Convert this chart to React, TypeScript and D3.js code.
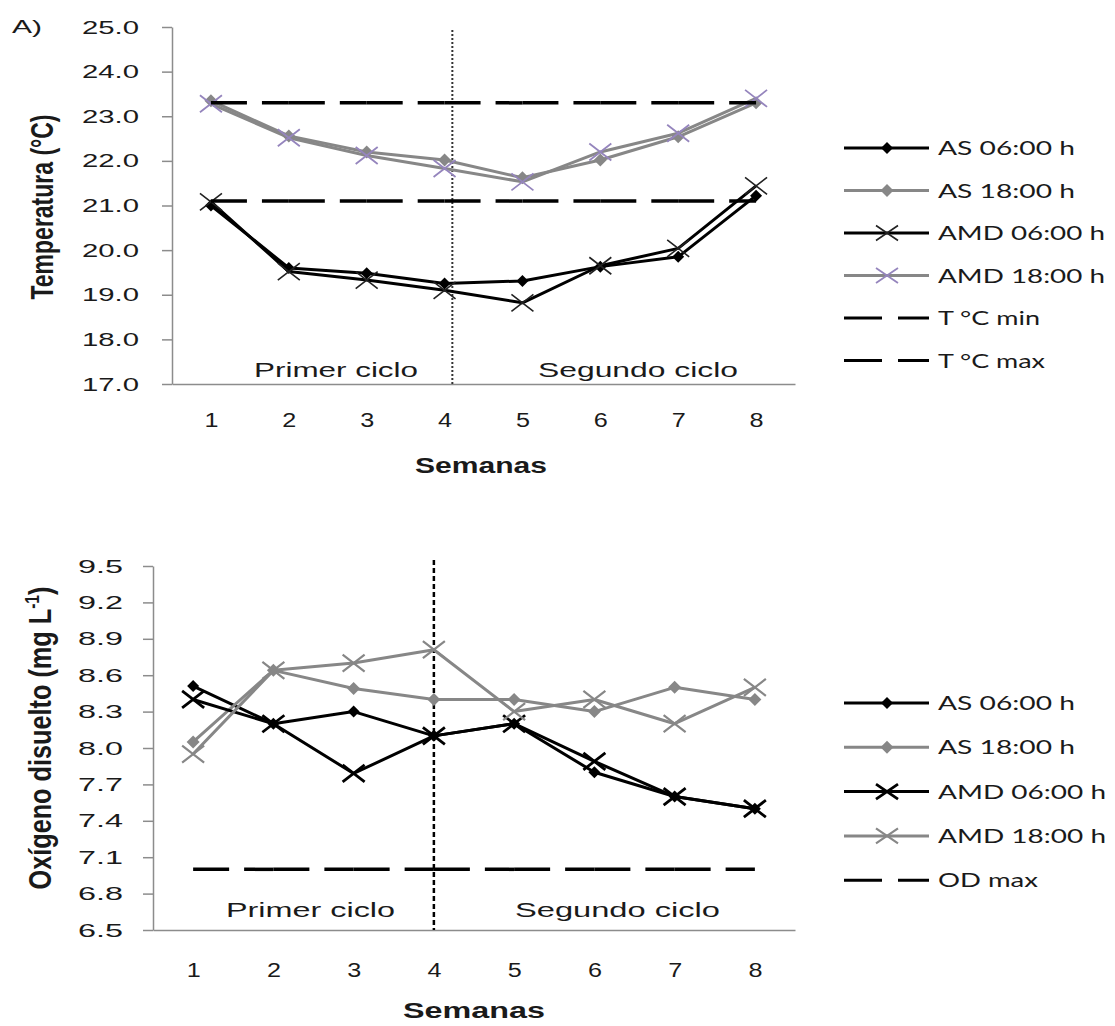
import { useEffect, useRef } from 'react';
import * as d3 from 'd3';

const weeks = ['1', '2', '3', '4', '5', '6', '7', '8'];

// A) temperatura
const tempTicks = [17, 18, 19, 20, 21, 22, 23, 24, 25];
const tempAS06 = [21.0, 19.6, 19.48, 19.25, 19.31, 19.63, 19.85, 21.22];
const tempAS18 = [23.35, 22.56, 22.2, 22.02, 21.62, 22.02, 22.54, 23.3];
const tempAMD06 = [21.08, 19.52, 19.33, 19.1, 18.82, 19.65, 20.04, 21.44];
const tempAMD18 = [23.28, 22.52, 22.12, 21.83, 21.53, 22.2, 22.62, 23.4];
const tempMin = [21.1, 21.1, 21.1, 21.1, 21.1, 21.1, 21.1, 21.1];
const tempMax = [23.3, 23.3, 23.3, 23.3, 23.3, 23.3, 23.3, 23.3];
const tempSeparator = 4.1;

// B) oxigeno disuelto
const oxyTicks = [6.5, 6.8, 7.1, 7.4, 7.7, 8.0, 8.3, 8.6, 8.9, 9.2, 9.5];
const oxyAS06 = [8.51, 8.2, 8.3, 8.1, 8.2, 7.8, 7.6, 7.5];
const oxyAS18 = [8.05, 8.64, 8.49, 8.4, 8.4, 8.3, 8.5, 8.4];
const oxyAMD06 = [8.4, 8.2, 7.79, 8.1, 8.2, 7.89, 7.6, 7.5];
const oxyAMD18 = [7.95, 8.64, 8.7, 8.81, 8.3, 8.4, 8.2, 8.5];
const odMax = [7.0, 7.0, 7.0, 7.0, 7.0, 7.0, 7.0, 7.0];
const oxySeparator = 4;

const legendTop = ['AS 06:00 h', 'AS 18:00 h', 'AMD 06:00 h', 'AMD 18:00 h', 'T °C min', 'T °C max'];
const legendBottom = ['AS 06:00 h', 'AS 18:00 h', 'AMD 06:00 h', 'AMD 18:00 h', 'OD max'];

const SANS = "'Liberation Sans', Arial, sans-serif";
const LEG = "Lato, 'Open Sans', sans-serif";
const GRAY = '#878787';
const AXIS = '#8c8c8c';
const PURPLE = '#9585bd';

const panels = [
    {
        left: 172, right: 795, top: 27, bottom: 384, domain: [17, 25], ticks: tempTicks, fmt: '.1f',
        tickGap: 33, tickLen: 57, xLabelDy: 43, sepPos: tempSeparator, sepTop: 30,
        sepStyle: { color: '#333', width: 2, dash: '2 2' },
        series: [
            { name: legendTop[0], values: tempAS06, stroke: '#000', marker: 'diamond', mColor: '#000', mSize: 6, mWidth: 0 },
            { name: legendTop[1], values: tempAS18, stroke: GRAY, marker: 'diamond', mColor: GRAY, mSize: 6.5, mWidth: 0 },
            { name: legendTop[2], values: tempAMD06, stroke: '#000', marker: 'cross', mColor: '#222', mSize: 0, mWidth: 1.6 },
            { name: legendTop[3], values: tempAMD18, stroke: GRAY, marker: 'cross', mColor: PURPLE, mSize: 0, mWidth: 1.8 },
        ],
        refs: [{ name: legendTop[4], values: tempMin }, { name: legendTop[5], values: tempMax }],
        legendY: 148, legendStep: 42.5, legendLens: [137, 137, 167, 167, 102, 107],
        cycles: [
            { text: 'Primer ciclo', x: 254, len: 164, y: 377 },
            { text: 'Segundo ciclo', x: 538, len: 200, y: 377 },
        ],
        title: { x: 53, cy: 207, len: 185 },
        xTitle: { cx: 481, y: 473, len: 132 },
    },
    {
        left: 153, right: 795, top: 566, bottom: 930, domain: [6.5, 9.5], ticks: oxyTicks, fmt: '.1f',
        tickGap: 30, tickLen: 45, xLabelDy: 47, sepPos: oxySeparator, sepTop: 560,
        sepStyle: { color: '#000', width: 2.5, dash: '5 3' },
        series: [
            { name: legendBottom[0], values: oxyAS06, stroke: '#000', marker: 'diamond', mColor: '#000', mSize: 6, mWidth: 0 },
            { name: legendBottom[1], values: oxyAS18, stroke: GRAY, marker: 'diamond', mColor: GRAY, mSize: 6.5, mWidth: 0 },
            { name: legendBottom[2], values: oxyAMD06, stroke: '#000', marker: 'cross', mColor: '#000', mSize: 0, mWidth: 2.8 },
            { name: legendBottom[3], values: oxyAMD18, stroke: GRAY, marker: 'cross', mColor: GRAY, mSize: 0, mWidth: 2.2 },
        ],
        refs: [{ name: legendBottom[4], values: odMax }],
        legendY: 703, legendStep: 44.3, legendLens: [137, 137, 168, 168, 100],
        cycles: [
            { text: 'Primer ciclo', x: 226, len: 169, y: 917 },
            { text: 'Segundo ciclo', x: 515, len: 205, y: 917 },
        ],
        title: { x: 51, cy: 738, len: 303 },
        xTitle: { cx: 474, y: 1018, len: 142 },
    },
];

const drawMarker = (g, s, cx, cy, legend) => {
    if (s.marker === 'diamond') {
        const r = s.mSize;
        g.append('path')
            .attr('d', `M${cx},${cy - r}L${cx + r},${cy}L${cx},${cy + r}L${cx - r},${cy}Z`)
            .attr('fill', s.mColor);
    } else {
        const w = 11;
        const h = legend ? 7.5 : 8.5;
        g.append('path')
            .attr('d', `M${cx - w},${cy - h}L${cx + w},${cy + h}M${cx - w},${cy + h}L${cx + w},${cy - h}`)
            .attr('stroke', s.mColor)
            .attr('stroke-width', s.mWidth)
            .attr('fill', 'none');
    }
};

const addText = (g, text, x, y, len, size, weight = 'normal', family = SANS) =>
    g.append('text')
        .attr('x', x)
        .attr('y', y)
        .attr('font-family', family)
        .attr('font-size', size)
        .attr('font-weight', weight)
        .attr('fill', '#1a1a1a')
        .attr('textLength', len)
        .attr('lengthAdjust', 'spacingAndGlyphs')
        .text(text);

const drawPanel = (svg, p) => {
    const x = d3.scalePoint().domain(weeks).range([p.left, p.right]).padding(0.5);
    const y = d3.scaleLinear().domain(p.domain).range([p.bottom, p.top]);
    const g = svg.append('g');

    const yAxis = g.append('g')
        .attr('transform', `translate(${p.left},0)`)
        .call(d3.axisLeft(y).tickValues(p.ticks).tickFormat(d3.format(p.fmt)).tickSize(10).tickSizeOuter(0));
    yAxis.select('.domain').attr('stroke', AXIS).attr('stroke-width', 1.5);
    yAxis.selectAll('.tick line').attr('stroke', AXIS).attr('stroke-width', 1.5);
    yAxis.selectAll('.tick text')
        .attr('x', -(p.tickGap + p.tickLen))
        .attr('text-anchor', 'start')
        .attr('font-size', 19)
        .attr('font-family', SANS)
        .attr('fill', '#1a1a1a')
        .attr('textLength', p.tickLen)
        .attr('lengthAdjust', 'spacingAndGlyphs');

    const xAxis = g.append('g')
        .attr('transform', `translate(0,${p.bottom})`)
        .call(d3.axisBottom(x).tickSize(0).tickSizeOuter(0));
    xAxis.select('.domain').attr('stroke', AXIS).attr('stroke-width', 1.5);
    xAxis.selectAll('.tick text')
        .attr('x', -7)
        .attr('y', p.xLabelDy)
        .attr('dy', 0)
        .attr('text-anchor', 'start')
        .attr('font-size', 20)
        .attr('font-family', SANS)
        .attr('fill', '#1a1a1a')
        .attr('textLength', 14)
        .attr('lengthAdjust', 'spacingAndGlyphs');

    // vertical separator between cycles
    const sx = x(weeks[0]) + (p.sepPos - 1) * x.step();
    g.append('line')
        .attr('x1', sx).attr('x2', sx)
        .attr('y1', p.sepTop).attr('y2', p.bottom)
        .attr('stroke', p.sepStyle.color)
        .attr('stroke-width', p.sepStyle.width)
        .attr('stroke-dasharray', p.sepStyle.dash);

    p.cycles.forEach(c => addText(g, c.text, c.x, c.y, c.len, 20));

    const line = d3.line().x((d, i) => x(weeks[i])).y(d => y(d));

    p.series.forEach(s => {
        g.append('path')
            .attr('d', line(s.values))
            .attr('fill', 'none')
            .attr('stroke', s.stroke)
            .attr('stroke-width', 3)
            .attr('stroke-linejoin', 'round');
        s.values.forEach((v, i) => drawMarker(g, s, x(weeks[i]), y(v), false));
    });

    // reference lines, dashed per segment like the spreadsheet does
    p.refs.forEach(r => {
        r.values.slice(1).forEach((v, i) => {
            g.append('line')
                .attr('x1', x(weeks[i])).attr('y1', y(r.values[i]))
                .attr('x2', x(weeks[i + 1])).attr('y2', y(v))
                .attr('stroke', '#000')
                .attr('stroke-width', 3.5)
                .attr('stroke-dasharray', '36 15');
        });
    });

    // legend
    const items = [...p.series, ...p.refs.map(r => ({ ...r, ref: true }))];
    items.forEach((s, i) => {
        const ly = p.legendY + i * p.legendStep;
        const lg = g.append('g');
        lg.append('line')
            .attr('x1', 844).attr('x2', 929)
            .attr('y1', ly).attr('y2', ly)
            .attr('stroke', s.ref ? '#000' : s.stroke)
            .attr('stroke-width', 3)
            .attr('stroke-dasharray', s.ref ? '38 16' : null);
        if (!s.ref) drawMarker(lg, s, 887, ly, true);
        addText(lg, s.name, 938, ly + 7, p.legendLens[i], 19, 'normal', LEG);
    });

    // axis titles
    const t = g.append('text')
        .attr('transform', `translate(${p.title.x},${p.title.cy}) scale(1.5,1) rotate(-90)`)
        .attr('x', -p.title.len / 2)
        .attr('y', 0)
        .attr('font-family', SANS)
        .attr('font-size', 21)
        .attr('font-weight', 'bold')
        .attr('fill', '#1a1a1a')
        .attr('textLength', p.title.len)
        .attr('lengthAdjust', 'spacingAndGlyphs');
    if (p === panels[0]) {
        t.text('Temperatura (°C)');
    } else {
        t.append('tspan').text('Oxígeno disuelto (mg L');
        t.append('tspan').attr('dy', -8).attr('font-size', 13).text('-1');
        t.append('tspan').attr('dy', 8).text(')');
    }

    addText(g, 'Semanas', p.xTitle.cx - p.xTitle.len / 2, p.xTitle.y, p.xTitle.len, 22, 'bold');
};

const App = () => {
    const ref = useRef(null);

    useEffect(() => {
        const svg = d3.select(ref.current);
        svg.selectAll('*').remove();
        svg.append('rect').attr('width', 1115).attr('height', 1026).attr('fill', '#fff');
        addText(svg, 'A)', 12, 33, 30, 19);
        panels.forEach(p => drawPanel(svg, p));
    }, []);

    return (
        <svg ref={ref} width={1115} height={1026}
            style={{ position: 'absolute', left: 0, top: 0, display: 'block' }}></svg>
    );
};

export default App;
